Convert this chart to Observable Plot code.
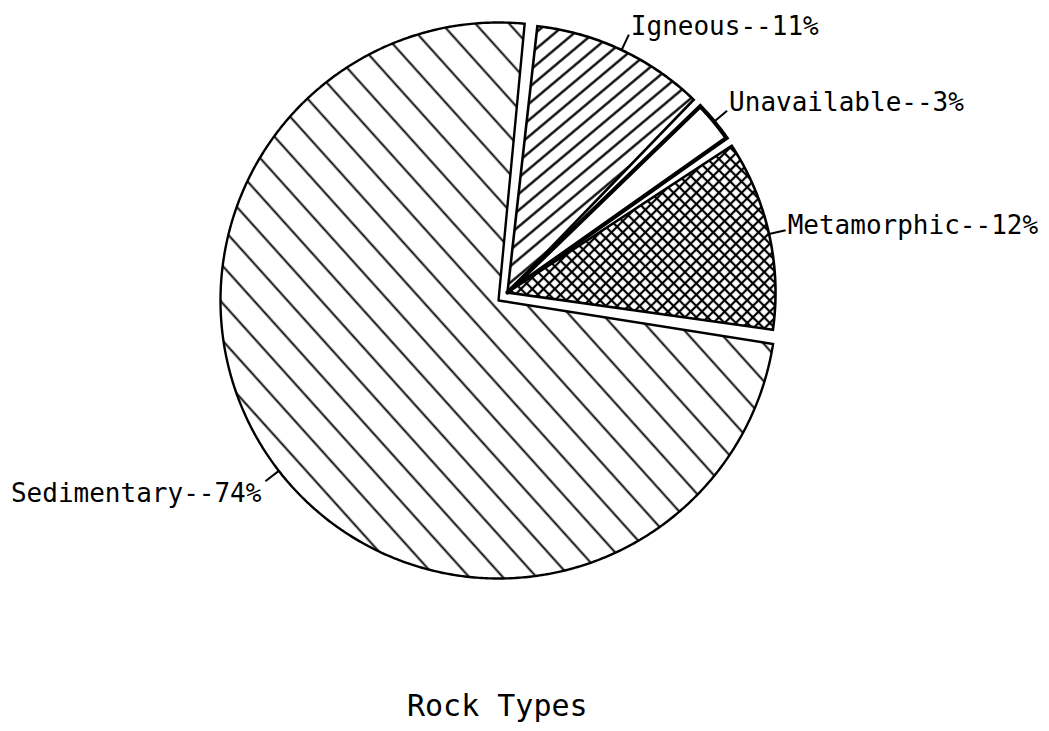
<!DOCTYPE html>
<html>
<head>
<meta charset="utf-8">
<script src="https://cdn.jsdelivr.net/npm/d3@7"></script>
<script src="https://cdn.jsdelivr.net/npm/@observablehq/plot@0.6"></script>
<style>
  body { margin: 0; background: #fff; }
  #wrap { position: relative; width: 1049px; height: 731px; background: #fff; }
  #title { position: absolute; left: 407px; top: 691px; font-family: "DejaVu Sans Mono", monospace; font-size: 30px; line-height: 30px; white-space: pre; color: #000; }
</style>
</head>
<body>
<div id="wrap"><div id="chart"></div><div id="title"></div></div>
<script>
// ---- data ----
const categories = ["Igneous", "Unavailable", "Metamorphic", "Sedimentary"];
const percents = [11, 3, 12, 74];
const chartTitle = "Rock Types";

// ---- layout constants ----
const W = 1049, H = 680;
const CX = 498, CY = 300, R = 278;          // pie centre & radius in px
const startDeg = 5.4;                        // first slice starts here (clockwise from 12 o'clock)
const explodedSet = new Set(["Igneous", "Unavailable", "Metamorphic"]);
const explodeOffset = [9 / R, 8 / R];        // data units (y up)
const explodedRadius = 268 / R;
const padDeg = 1.0;
const leaderLen = 17 / R;

const fills = {
  Igneous: "url(#p-ign)",
  Unavailable: "white",
  Metamorphic: "url(#p-meta)",
  Sedimentary: "url(#p-sed)"
};
const strokeWidths = { Igneous: 2.6, Unavailable: 4.2, Metamorphic: 2.6, Sedimentary: 2.4 };
const labelDy = { Igneous: 0, Unavailable: 0, Metamorphic: 4, Sedimentary: 2 };

// ---- geometry derived from data ----
const rad = d => d * Math.PI / 180;
let acc = startDeg;
const slices = categories.map((name, i) => {
  const a0 = acc, a1 = acc + percents[i] * 3.6;
  acc = a1;
  const ex = explodedSet.has(name);
  const ox = ex ? explodeOffset[0] : 0, oy = ex ? explodeOffset[1] : 0;
  const r = ex ? explodedRadius : 1;
  const s0 = ex ? a0 + padDeg : a0, s1 = ex ? a1 - padDeg : a1;
  const pts = [{x: ox, y: oy}];
  const n = Math.max(4, Math.ceil((s1 - s0) / 0.5));
  for (let k = 0; k <= n; k++) {
    const a = rad(s0 + (s1 - s0) * k / n);
    pts.push({x: ox + r * Math.sin(a), y: oy + r * Math.cos(a)});
  }
  pts.push({x: ox, y: oy});
  const m = rad((a0 + a1) / 2);
  return {
    name, pct: percents[i], pts,
    mid: (a0 + a1) / 2,
    x1: ox + r * Math.sin(m), y1: oy + r * Math.cos(m),
    x2: ox + (r + leaderLen) * Math.sin(m), y2: oy + (r + leaderLen) * Math.cos(m),
    label: `${name}--${percents[i]}%`
  };
});

const rightLabels = slices.filter(s => s.mid < 180);
const leftLabels = slices.filter(s => s.mid >= 180);

const font = "DejaVu Sans Mono";

const svg = Plot.plot({
  width: W, height: H,
  margin: 0,
  x: {domain: [-CX / R, (W - CX) / R], axis: null},
  y: {domain: [-(H - CY) / R, CY / R], axis: null},
  marks: [
    ...slices.map(s => Plot.line(s.pts, {
      x: "x", y: "y", fill: fills[s.name], stroke: "black",
      strokeWidth: strokeWidths[s.name], strokeLinejoin: "miter", strokeMiterlimit: 10, curve: "linear"
    })),
    Plot.link(slices, {x1: "x1", y1: "y1", x2: "x2", y2: "y2", stroke: "black", strokeWidth: 2}),
    ...rightLabels.map(s => Plot.text([s], {x: "x2", y: "y2", text: "label", textAnchor: "start", lineAnchor: "bottom",
      dx: 2, dy: labelDy[s.name], fontFamily: font, fontSize: 26, fill: "black"})),
    ...leftLabels.map(s => Plot.text([s], {x: "x2", y: "y2", text: "label", textAnchor: "end", lineAnchor: "top",
      dx: -4, dy: labelDy[s.name], fontFamily: font, fontSize: 26, fill: "black"}))
  ]
});

// hatch patterns
const defs = d3.select(svg).insert("defs", ":first-child");
function hatch(id, h, angle, sw, cross) {
  const p = defs.append("pattern").attr("id", id).attr("patternUnits", "userSpaceOnUse")
    .attr("width", h).attr("height", h).attr("patternTransform", `rotate(${angle})`);
  p.append("rect").attr("width", h).attr("height", h).attr("fill", "white");
  p.append("line").attr("x1", -1).attr("x2", h + 1).attr("y1", h / 2).attr("y2", h / 2)
    .attr("stroke", "black").attr("stroke-width", sw);
  if (cross) p.append("line").attr("y1", -1).attr("y2", h + 1).attr("x1", h / 2).attr("x2", h / 2)
    .attr("stroke", "black").attr("stroke-width", sw);
}
hatch("p-sed", 25, 48, 1.9, false);
hatch("p-ign", 12.5, -40, 2.3, false);
hatch("p-meta", 8, 45, 2.2, true);

document.getElementById("chart").appendChild(svg);
document.getElementById("title").textContent = chartTitle;
</script>
</body>
</html>
